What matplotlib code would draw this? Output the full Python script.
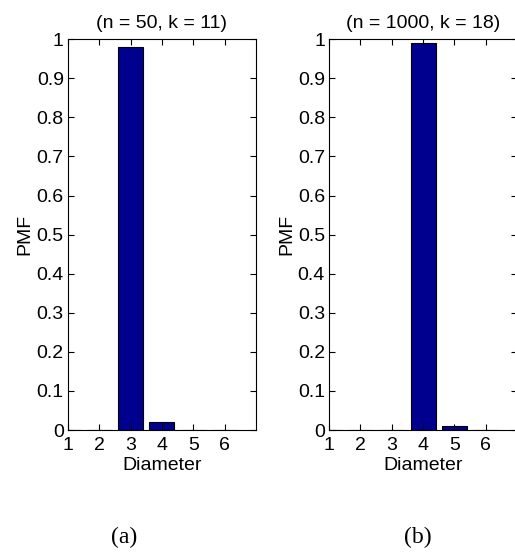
import numpy as np
import matplotlib
matplotlib.use("Agg")
import matplotlib.pyplot as plt

plt.rcParams['font.family'] = ['Liberation Sans', 'DejaVu Sans']

diam = [1, 2, 3, 4, 5, 6]
pmf_a = [0, 0, 0.98, 0.02, 0, 0]
pmf_b = [0, 0, 0, 0.99, 0.01, 0]
titles = ["(n = 50, k = 11)", "(n = 1000, k = 18)"]
panels = ["(a)", "(b)"]
yticks = [0, 0.1, 0.2, 0.3, 0.4, 0.5, 0.6, 0.7, 0.8, 0.9, 1]
ytick_labels = ["0", "0.1", "0.2", "0.3", "0.4", "0.5", "0.6", "0.7", "0.8", "0.9", "1"]

fig = plt.figure(figsize=(5.15, 5.52), dpi=100)
ax1 = fig.add_axes([0.132, 0.221, 0.365, 0.708])
ax2 = fig.add_axes([0.639, 0.221, 0.365, 0.708])

# panel label centres in figure coords
panel_x = [124 / 515, 418 / 515]

for ax, vals, t, p, px in zip([ax1, ax2], [pmf_a, pmf_b], titles, panels, panel_x):
    ax.bar(diam, vals, width=0.8, color='#00008f', edgecolor='black', linewidth=0.8)
    ax.set_xlim(1, 7)
    ax.set_ylim(0, 1)
    ax.set_xticks(diam)
    ax.set_yticks(yticks)
    ax.set_yticklabels(ytick_labels)
    ax.tick_params(direction='in', top=True, right=True, labelsize=14, length=4)
    ax.tick_params(axis='x', pad=5)
    ax.tick_params(axis='y', pad=3)
    for s in ax.spines.values():
        s.set_linewidth(0.8)
    ax.set_title(t, fontsize=14, pad=8)
    ax.set_xlabel("Diameter", fontsize=14, labelpad=2)
    ax.set_ylabel("PMF", fontsize=14, labelpad=2)
    fig.text(px, 1 - 537 / 552, p, ha='center', va='center',
             fontsize=17, family=['Liberation Serif', 'DejaVu Serif'])

fig.savefig("out.png", dpi=100)
